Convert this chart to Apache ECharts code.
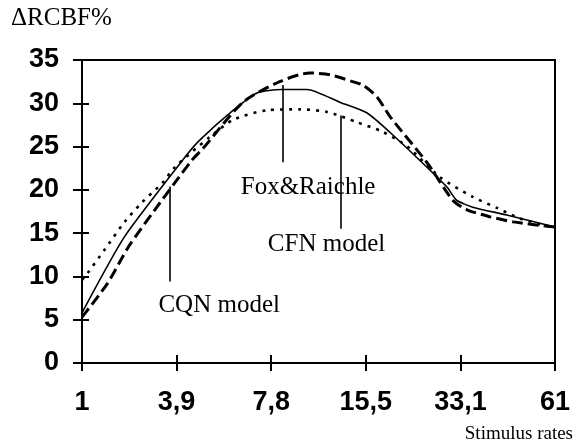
<!DOCTYPE html>
<html>
<head>
<meta charset="utf-8">
<script src="https://cdn.jsdelivr.net/npm/echarts@6/dist/echarts.min.js"></script>
<style>
  html, body { margin: 0; padding: 0; background: #fff; }
  #chart { width: 579px; height: 443px; }
</style>
</head>
<body>
<div id="chart"></div>
<script>
  // x positions are tick indexes (0..5) on an evenly spaced rate axis
  var rateLabels = ['1', '3,9', '7,8', '15,5', '33,1', '61']
  var yTicks = [0, 5, 10, 15, 20, 25, 30, 35]

  var foxRaichle = [
    [0, 5.8], [0.45, 14.6], [1.09, 23.8], [1.25, 25.8], [1.6, 29.2], [1.85, 31.2],
    [2.11, 31.6], [2.38, 31.6], [2.73, 30.1], [3.01, 28.9], [3.26, 26.6], [3.6, 23.1],
    [3.86, 20.3], [3.96, 18.8], [4.13, 18], [4.49, 17.1], [5, 15.7]
  ]
  var cqnModel = [
    [0, 5.3], [0.27, 9.2], [0.49, 13.4], [0.77, 17.7], [0.98, 20.8], [1.16, 23.4],
    [1.28, 24.8], [1.7, 30.1], [2.09, 32.5], [2.41, 33.5], [2.62, 33.3], [2.86, 32.5],
    [2.97, 32.1], [3.12, 30.7], [3.26, 28.4], [3.65, 23.1], [3.92, 18.8], [4.07, 17.7],
    [4.31, 16.9], [4.56, 16.3], [5, 15.7]
  ]
  var cfnModel = [
    [0, 9.6], [0.06, 10.4], [0.24, 13.1], [0.45, 16.3], [0.63, 18.5], [0.85, 20.8],
    [0.98, 22.6], [1.35, 26.1], [1.6, 28.1], [1.96, 29.2], [2.3, 29.3], [2.59, 29],
    [2.91, 27.8], [3.18, 26.7], [3.44, 25], [3.78, 21.5], [4.13, 19.2], [4.39, 17.9],
    [4.63, 16.7], [5, 15.6]
  ]

  // callouts: label text, label centre, pointer line (x, yTop, yBottom)
  var callouts = [
    { text: 'Fox&Raichle', at: [2.39, 20.3], line: [2.125, 32.1, 23.2] },
    { text: 'CFN model', at: [2.585, 13.7], line: [2.74, 28.6, 15.5] },
    { text: 'CQN model', at: [1.45, 6.7], line: [0.93, 20.4, 9.4] }
  ]

  var myChart = echarts.init(document.getElementById('chart'))

  var baseX = {
    type: 'value', min: 0, max: 5, interval: 1,
    splitLine: { show: false }
  }
  var baseY = {
    type: 'value', min: 0, max: 35, interval: 5,
    splitLine: { show: false }
  }

  myChart.setOption({
    animation: false,
    title: [
      {
        text: 'ΔRCBF%', left: 6, top: 1,
        textStyle: { fontFamily: 'Liberation Serif', fontWeight: 'normal', fontSize: 25, color: '#000' }
      },
      {
        text: 'Stimulus rates', right: 1, top: 420,
        textStyle: { fontFamily: 'Liberation Serif', fontWeight: 'normal', fontSize: 19, color: '#000' }
      }
    ],
    grid: {
      left: 82, right: 24, top: 60, bottom: 80,
      show: true, borderColor: '#000', borderWidth: 2
    },
    xAxis: [
      Object.assign({}, baseX, {
        position: 'bottom',
        axisLine: { lineStyle: { color: '#000', width: 2 } },
        axisTick: { length: 8, lineStyle: { color: '#000', width: 2 } },
        axisLabel: {
          margin: 26, color: '#000', fontFamily: 'Liberation Sans', fontWeight: 'bold', fontSize: 27,
          formatter: function (v) { return rateLabels[v] }
        }
      }),
      Object.assign({}, baseX, {
        position: 'bottom',
        axisLine: { show: false },
        axisTick: { inside: true, length: 8, lineStyle: { color: '#000', width: 2 } },
        axisLabel: { show: false }
      })
    ],
    yAxis: [
      Object.assign({}, baseY, {
        position: 'left',
        axisLine: { show: true, lineStyle: { color: '#000', width: 2 } },
        axisTick: { show: true, length: 9, lineStyle: { color: '#000', width: 2 } },
        axisLabel: {
          margin: 23, color: '#000', fontFamily: 'Liberation Sans', fontWeight: 'bold', fontSize: 27,
          formatter: function (v) { return yTicks.indexOf(v) >= 0 ? String(v) : '' }
        }
      }),
      Object.assign({}, baseY, {
        position: 'left',
        axisLine: { show: false },
        axisTick: { show: true, inside: true, length: 7, lineStyle: { color: '#000', width: 2 } },
        axisLabel: { show: false }
      })
    ],
    series: [
      {
        name: 'Fox&Raichle', type: 'line', data: foxRaichle, smooth: 0.2,
        symbol: 'none', lineStyle: { color: '#000', width: 1.6 },
        markLine: {
          silent: true, symbol: 'none', label: { show: false },
          lineStyle: { color: '#000', width: 1.6, type: 'solid' },
          data: callouts.map(function (c) {
            return [{ coord: [c.line[0], c.line[1]] }, { coord: [c.line[0], c.line[2]] }]
          })
        },
        markPoint: {
          silent: true, symbol: 'circle', symbolSize: 0,
          label: {
            show: true, position: 'inside', color: '#000',
            fontFamily: 'Liberation Serif', fontSize: 25,
            formatter: function (p) { return p.name }
          },
          data: callouts.map(function (c) { return { name: c.text, coord: c.at } })
        }
      },
      {
        name: 'CQN model', type: 'line', data: cqnModel, smooth: 0.25,
        symbol: 'none', lineStyle: { color: '#000', width: 3, type: [11, 5] }
      },
      {
        name: 'CFN model', type: 'line', data: cfnModel, smooth: 0.25,
        symbol: 'none', lineStyle: { color: '#000', width: 2.6, type: [3, 6] }
      }
    ]
  })
</script>
</body>
</html>
